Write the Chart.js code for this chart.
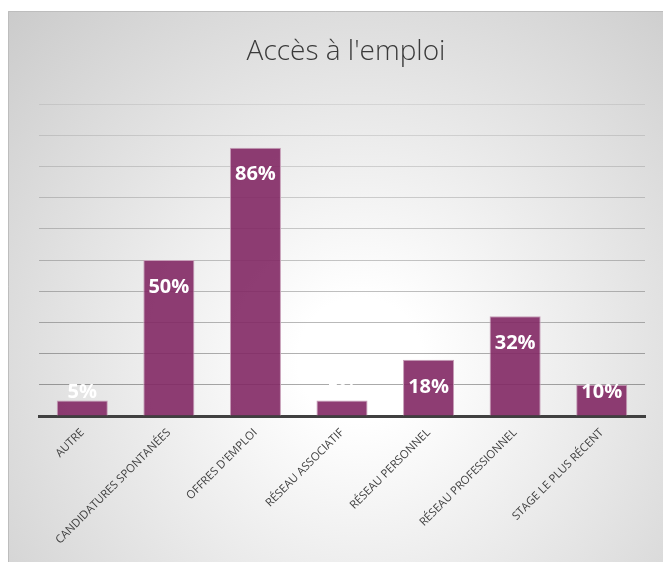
<!DOCTYPE html>
<html lang="fr">
<head>
  <meta charset="UTF-8">
  <title>Accès à l'emploi</title>
  <script src="https://cdn.jsdelivr.net/npm/chart.js"></script>
  <style>
    html, body {margin: 0; padding: 0; background: #fff;}
    #wrap {width: 663px; height: 562px;}
  </style>
</head>
<body>
  <div id="wrap"><canvas id="myChart" width="663" height="562"></canvas></div>
  <script>
    // données
    const categories = ["AUTRE", "CANDIDATURES SPONTANÉES", "OFFRES D'EMPLOI", "RÉSEAU ASSOCIATIF",
                        "RÉSEAU PERSONNEL", "RÉSEAU PROFESSIONNEL", "STAGE LE PLUS RÉCENT"];
    const valeurs = [5, 50, 86, 5, 18, 32, 10];
    const titre = "Accès à l'emploi";

    // fond dégradé + cadre + titre
    const fond = {
      id: 'fond',
      beforeDraw(chart) {
        const c = chart.ctx;
        c.save();
        c.fillStyle = '#fff';
        c.fillRect(0, 0, chart.width, chart.height);
        const g = c.createRadialGradient(360, 360, 0, 360, 360, 520);
        g.addColorStop(0, '#ffffff');
        g.addColorStop(0.12, '#ffffff');
        g.addColorStop(1, '#c8c8c8');
        c.fillStyle = g;
        c.fillRect(8, 11, chart.width - 8, chart.height - 11);
        c.strokeStyle = '#bdbdbd';
        c.lineWidth = 1;
        c.beginPath();
        c.moveTo(8.5, chart.height);
        c.lineTo(8.5, 11.5);
        c.lineTo(chart.width, 11.5);
        c.stroke();
        // titre
        c.font = '300 28px "Open Sans"';
        c.fillStyle = '#3a3a3a';
        c.textAlign = 'center';
        c.textBaseline = 'middle';
        c.fillText(titre, 346, 52);
        c.restore();
      }
    };

    // étiquettes de données
    const etiquettes = {
      id: 'etiquettes',
      afterDatasetsDraw(chart) {
        const c = chart.ctx;
        const meta = chart.getDatasetMeta(0);
        c.save();
        c.font = 'bold 20px "Open Sans"';
        c.fillStyle = '#ffffff';
        c.textAlign = 'center';
        c.textBaseline = 'middle';
        meta.data.forEach((bar, i) => {
          const y = Math.min(bar.y + 27, 392);
          c.fillText(valeurs[i] + '%', bar.x, y);
        });
        c.restore();
      }
    };

    const ctx = document.getElementById('myChart');
    new Chart(ctx, {
      type: 'bar',
      data: {
        labels: categories,
        datasets: [{
          data: valeurs,
          backgroundColor: 'rgba(130,40,100,0.9)',
          borderColor: '#c7a0b9',
          borderWidth: 1,
          barPercentage: 0.59,
          categoryPercentage: 1
        }]
      },
      plugins: [fond, etiquettes],
      options: {
        responsive: false,
        animation: false,
        layout: {padding: {top: 104, left: 0, right: 18, bottom: 0}},
        plugins: {
          legend: {display: false},
          tooltip: {enabled: false},
          title: {display: false}
        },
        scales: {
          x: {
            afterFit(axis) { axis.height = 146; },
            grid: {display: false},
            border: {display: true, color: '#404040', width: 3},
            ticks: {
              color: '#404040',
              font: {family: '"Open Sans"', size: 11.3},
              maxRotation: 45,
              minRotation: 45,
              autoSkip: false,
              padding: 2
            }
          },
          y: {
            min: 0,
            max: 100,
            afterFit(axis) { axis.width = 39; },
            border: {display: false},
            ticks: {display: false, stepSize: 10},
            grid: {
              drawTicks: false,
              color(ctx) {
                const t = ctx.index / 10;
                const a = 0.36 - 0.28 * t;
                return 'rgba(0,0,0,' + a.toFixed(3) + ')';
              }
            }
          }
        }
      }
    });
  </script>
</body>
</html>
